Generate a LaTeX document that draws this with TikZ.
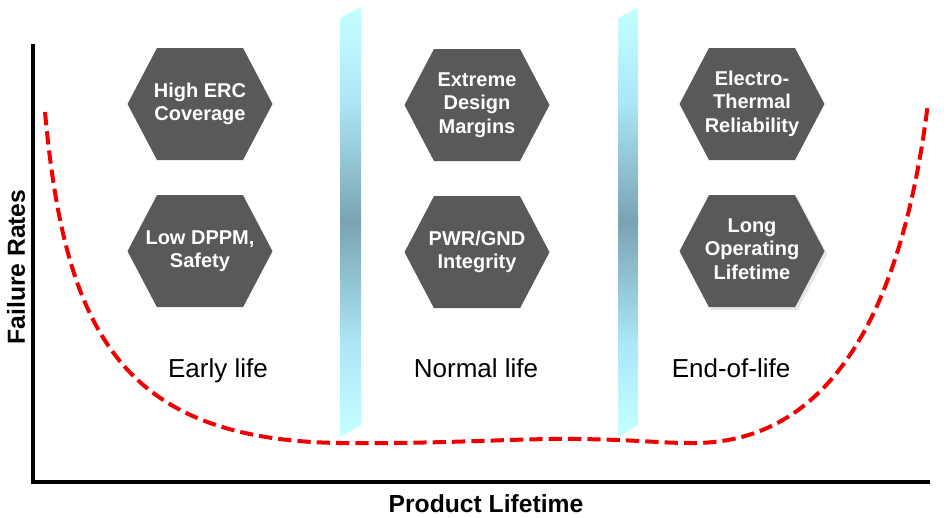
\documentclass[tikz,border=0pt]{standalone}
\usepackage{fontspec}
\setmainfont{Liberation Sans}
\usetikzlibrary{shapes.symbols,positioning,shadows}
\definecolor{hexgray}{RGB}{89,89,89}
\definecolor{barend}{RGB}{198,255,255}
\definecolor{barlight}{RGB}{172,230,248}
\definecolor{barmid}{RGB}{122,163,177}
\definecolor{curvered}{RGB}{240,0,0}
\pgfdeclareverticalshading{barshade}{100bp}{color(0bp)=(barend); color(25bp)=(barend); color(36bp)=(barlight); color(50bp)=(barmid); color(64bp)=(barlight); color(75bp)=(barend); color(100bp)=(barend)}
% zero-width text block, so every hexagon keeps the same size
\newcommand{\hextext}[1]{\makebox[0pt]{\begin{tabular}{@{}c@{}}#1\end{tabular}}}
\tikzset{
  hexcell/.style={shape=signal, signal to=west and east, signal pointer angle=124.5, fill=hexgray, text=white, font=\fontsize{15}{17.5}\selectfont\bfseries, minimum height=84pt, minimum width=108.75pt, inner sep=0pt},
  phaselabel/.style={font=\fontsize{19.5}{22}\selectfont, anchor=base},
  axislabel/.style={font=\fontsize{18.5}{22}\selectfont\bfseries, anchor=base},
  axisline/.style={line width=2.4pt},
  divider/.style={shading=barshade},
  bathtub/.style={curvered, line width=3pt, dash pattern=on 10pt off 4.5pt},
}

\begin{document}
\begin{tikzpicture}[x=0.75pt, y=-0.75pt]
  \useasboundingbox (0,0) rectangle (947,518);

  % Axes
  \draw[axisline] (33,44) -- (33,482) -- (930,482);
  \node[axislabel, rotate=90] (rates) at (25,267) {Failure Rates};
  \node[axislabel] (lifetime) at (486,512) {Product Lifetime};

  % Phase dividers
  \shade[divider] (340,18) -- (361,7) -- (361,425) -- (340,437) -- cycle;
  \shade[divider] (618,18) -- (638,7) -- (638,425) -- (618,437) -- cycle;

  % Bathtub curve
  \draw[bathtub] (45,112) .. controls (65,330) and (120,440) .. (340,443)
    .. controls (450,444) and (520,438) .. (580,439)
    .. controls (640,440) and (660,443) .. (690,443)
    .. controls (820,445) and (900,330) .. (928,103);

  % Early life
  \node[hexcell] (erc) at (200,104) {\hextext{High ERC\\Coverage}};
  \node[hexcell, below=26pt of erc] (dppm) {\hextext{Low DPPM,\\Safety}};
  \node[phaselabel] (early) at (218,377) {Early life};

  % Normal life
  \node[hexcell] (margins) at (477,105) {\hextext{Extreme\\Design\\Margins}};
  \node[hexcell, below=26pt of margins] (pwrgnd) {\hextext{PWR/GND\\Integrity}};
  \node[phaselabel] (normal) at (476,377) {Normal life};

  % End of life
  \node[hexcell] (thermal) at (752,104) {\hextext{Electro-\\Thermal\\Reliability}};
  \node[hexcell, below=26pt of thermal, drop shadow={shadow xshift=2pt, shadow yshift=-2pt, opacity=0.2}] (operating) {\hextext{Long\\Operating\\Lifetime}};
  \node[phaselabel] (endlife) at (731,377) {End-of-life};
\end{tikzpicture}
\end{document}
